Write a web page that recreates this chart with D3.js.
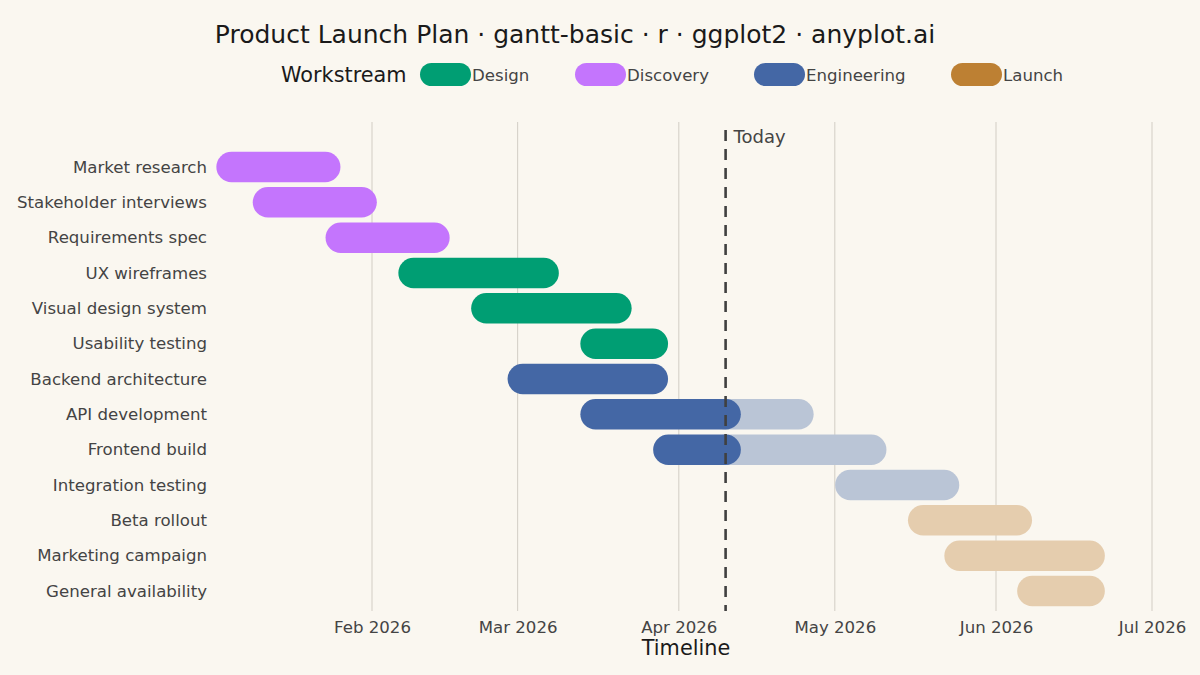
<!DOCTYPE html>
<html>
<head>
<meta charset="utf-8">
<script src="https://cdn.jsdelivr.net/npm/d3@7"></script>
<style>
  html, body { margin: 0; padding: 0; background: #FAF7F0; }
  svg { display: block; font-family: "DejaVu Sans", sans-serif; }
</style>
</head>
<body>
<svg id="chart" width="1200" height="675"></svg>
<script>
const tasks = ["Market research", "Stakeholder interviews", "Requirements spec", "UX wireframes",
  "Visual design system", "Usability testing", "Backend architecture", "API development",
  "Frontend build", "Integration testing", "Beta rollout", "Marketing campaign", "General availability"];
const workstreams = ["Discovery", "Discovery", "Discovery", "Design", "Design", "Design",
  "Engineering", "Engineering", "Engineering", "Engineering", "Launch", "Launch", "Launch"];
const starts = ["2026-01-05", "2026-01-12", "2026-01-26", "2026-02-09", "2026-02-23", "2026-03-16",
  "2026-03-02", "2026-03-16", "2026-03-30", "2026-05-04", "2026-05-18", "2026-05-25", "2026-06-08"];
const ends = ["2026-01-23", "2026-01-30", "2026-02-13", "2026-03-06", "2026-03-20", "2026-03-27",
  "2026-03-27", "2026-04-24", "2026-05-08", "2026-05-22", "2026-06-05", "2026-06-19", "2026-06-19"];
const todayStr = "2026-04-10";
const legendNames = ["Design", "Discovery", "Engineering", "Launch"];
const legendColors = ["#009E73", "#C475FD", "#4467A5", "#BD8033"];
const tickDates = ["2026-02-01", "2026-03-01", "2026-04-01", "2026-05-01", "2026-06-01", "2026-07-01"];

const parse = d3.utcParse("%Y-%m-%d");
const today = parse(todayStr);
const data = tasks.map((t, i) => ({ task: t, ws: workstreams[i], start: parse(starts[i]), end: parse(ends[i]) }));

const svg = d3.select("#chart");
svg.append("rect").attr("width", 1200).attr("height", 675).attr("fill", "#FAF7F0");

const color = d3.scaleOrdinal().domain(legendNames).range(legendColors);
const x = d3.scaleUtc().domain([parse("2026-02-01"), parse("2026-07-01")]).range([372, 1152]);
const y = d3.scalePoint().domain(tasks).range([167, 591]);
const barH = 30.5;
const fadeAlpha = 0.35;

const panelTop = 122, panelBottom = 611;

// gridlines
svg.append("g").selectAll("line").data(tickDates.map(parse)).join("line")
  .attr("x1", d => x(d)).attr("x2", d => x(d))
  .attr("y1", panelTop).attr("y2", panelBottom)
  .attr("stroke", "#D5D1C9").attr("stroke-width", 1.1);

// x axis
const xAxis = d3.axisBottom(x).tickValues(tickDates.map(parse)).tickFormat(d3.utcFormat("%b %Y")).tickSize(0).tickPadding(10);
const gx = svg.append("g").attr("transform", `translate(0,${panelBottom})`).call(xAxis);
gx.select(".domain").remove();
gx.selectAll("text").attr("font-size", 16.6).attr("fill", "#444").attr("font-family", "DejaVu Sans, sans-serif");

// y axis
const yAxis = d3.axisLeft(y).tickSize(0).tickPadding(0);
const gy = svg.append("g").attr("transform", "translate(207,0)").call(yAxis);
gy.select(".domain").remove();
gy.selectAll("text").attr("font-size", 16.6).attr("fill", "#444").attr("font-family", "DejaVu Sans, sans-serif");

// bars
function seg(g, s, e, yy, fill) {
  const x0 = x(s) - barH / 2, x1 = x(e) + barH / 2;
  g.append("rect").attr("x", x0).attr("y", yy - barH / 2)
    .attr("width", Math.max(0, x1 - x0)).attr("height", barH)
    .attr("rx", barH / 2).attr("ry", barH / 2).attr("fill", fill);
}
const gb = svg.append("g");
data.forEach(d => {
  const c = color(d.ws);
  const faded = d3.interpolateRgb("#FAF7F0", c)(fadeAlpha);
  const yy = y(d.task);
  if (d.end <= today) {
    seg(gb, d.start, d.end, yy, c);
  } else if (d.start >= today) {
    seg(gb, d.start, d.end, yy, faded);
  } else {
    seg(gb, today, d.end, yy, faded);
    seg(gb, d.start, today, yy, c);
  }
});

// today line
svg.append("line").attr("x1", x(today)).attr("x2", x(today))
  .attr("y1", 130).attr("y2", panelBottom)
  .attr("stroke", "#404040").attr("stroke-width", 2.6).attr("stroke-dasharray", "11,8");
svg.append("text").attr("x", x(today) + 8).attr("y", 143).attr("font-size", 18).attr("fill", "#444").text("Today");

// title
svg.append("text").attr("x", 575).attr("y", 43).attr("text-anchor", "middle")
  .attr("font-size", 25).attr("fill", "#1A1A1A")
  .text("Product Launch Plan · gantt-basic · r · ggplot2 · anyplot.ai");

// axis title
svg.append("text").attr("x", 686).attr("y", 655).attr("text-anchor", "middle")
  .attr("font-size", 20.8).attr("fill", "#1A1A1A").text("Timeline");

// legend
svg.append("text").attr("x", 281).attr("y", 82).attr("font-size", 20.8).attr("fill", "#1A1A1A").text("Workstream");
const legX = [420, 575, 754, 951];
const lg = svg.append("g").selectAll("g").data(legendNames).join("g")
  .attr("transform", (d, i) => `translate(${legX[i]},63)`);
lg.append("rect").attr("width", 51).attr("height", 23).attr("rx", 11.5).attr("ry", 11.5).attr("fill", d => color(d));
lg.append("text").attr("x", 52).attr("y", 17.5).attr("font-size", 16.6).attr("fill", "#444").text(d => d);
</script>
</body>
</html>
